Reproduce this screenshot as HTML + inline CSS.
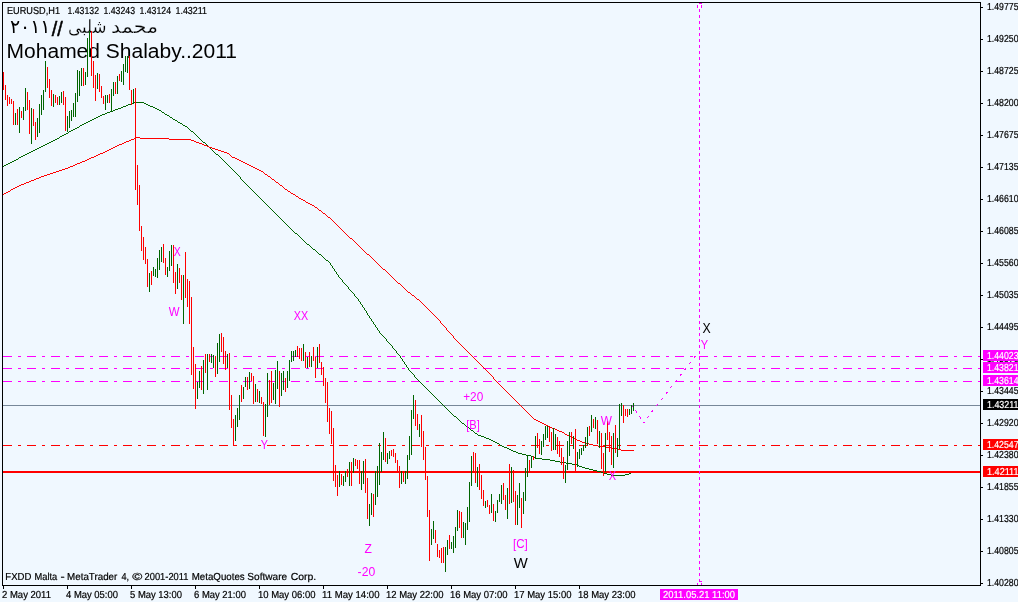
<!DOCTYPE html>
<html lang="en"><head><meta charset="utf-8"><title>EURUSD,H1</title>
<style>
html,body{margin:0;padding:0;background:#f0f8ff;overflow:hidden}
svg{display:block;will-change:transform}
text{font-family:"Liberation Sans","DejaVu Sans",sans-serif;}
.t{font-size:10.2px;fill:#000;stroke:#000;stroke-width:.2px;text-rendering:geometricPrecision}
.w{font-size:10.2px;fill:#fff;stroke:#fff;stroke-width:.2px;text-rendering:geometricPrecision}
.m{font-size:12px;fill:#f0f}
</style></head><body>
<svg width="1018" height="602" viewBox="0 0 1018 602">
<rect x="0" y="0" width="1018" height="602" fill="#f0f8ff"/>
<line x1="3" y1="356.5" x2="980" y2="356.5" stroke="#f0f" stroke-width="1" stroke-dasharray="9 6 3 6" stroke-dashoffset="0" shape-rendering="crispEdges"/>
<line x1="3" y1="368.5" x2="980" y2="368.5" stroke="#f0f" stroke-width="1" stroke-dasharray="9 6 3 6" stroke-dashoffset="0" shape-rendering="crispEdges"/>
<line x1="3" y1="381.5" x2="980" y2="381.5" stroke="#f0f" stroke-width="1" stroke-dasharray="9 6 3 6" stroke-dashoffset="0" shape-rendering="crispEdges"/>
<line x1="3" y1="405.5" x2="980" y2="405.5" stroke="#778899" stroke-width="1" shape-rendering="crispEdges"/>
<line x1="3" y1="445.5" x2="980" y2="445.5" stroke="#f00" stroke-width="1" stroke-dasharray="9 6 3 6" stroke-dashoffset="0" shape-rendering="crispEdges"/>
<line x1="3" y1="472" x2="980" y2="472" stroke="#f00" stroke-width="2" shape-rendering="crispEdges"/>
<line x1="699.5" y1="3" x2="699.5" y2="585" stroke="#f0f" stroke-width="1" stroke-dasharray="3 3" stroke-dashoffset="0" shape-rendering="crispEdges"/>
<rect x="698" y="4" width="3" height="5" fill="#fff" shape-rendering="crispEdges"/>
<line x1="699" y1="3.5" x2="702" y2="3.5" stroke="#f0f" stroke-width="1" shape-rendering="crispEdges"/>
<line x1="697.5" y1="5" x2="697.5" y2="8" stroke="#f0f" stroke-width="1" shape-rendering="crispEdges"/>
<line x1="701.5" y1="5" x2="701.5" y2="8" stroke="#f0f" stroke-width="1" shape-rendering="crispEdges"/>
<line x1="699" y1="581.5" x2="702" y2="581.5" stroke="#f0f" stroke-width="1" shape-rendering="crispEdges"/>
<line x1="697.5" y1="583" x2="697.5" y2="585" stroke="#f0f" stroke-width="1" shape-rendering="crispEdges"/>
<line x1="701.5" y1="583" x2="701.5" y2="585" stroke="#f0f" stroke-width="1" shape-rendering="crispEdges"/>
<path d="M3 166.5h1M4 165.5h2M6 164.5h2M8 163.5h2M10 162.5h2M12 161.5h2M14 160.5h2M16 159.5h2M18 158.5h1M19 157.5h2M21 156.5h2M23 155.5h2M25 154.5h2M27 153.5h2M29 152.5h2M31 151.5h2M33 150.5h2M35 149.5h2M37 148.5h2M39 147.5h2M41 146.5h2M43 145.5h2M45 144.5h2M47 143.5h2M49 142.5h2M51 141.5h2M53 140.5h2M55 139.5h2M57 138.5h2M59 137.5h1M60 136.5h2M62 135.5h2M64 134.5h2M66 133.5h2M68 132.5h1M69 131.5h2M71 130.5h2M73 129.5h2M75 128.5h2M77 127.5h2M79 126.5h1M80 125.5h2M82 124.5h2M84 123.5h2M86 122.5h2M88 121.5h2M90 120.5h2M92 119.5h2M94 118.5h2M96 117.5h2M98 116.5h2M100 115.5h2M102 114.5h3M105 113.5h2M107 112.5h3M110 111.5h3M113 110.5h2M115 109.5h3M118 108.5h3M121 107.5h2M123 106.5h3M126 105.5h2M128 104.5h3M131 103.5h3M134 102.5h10M144 103.5h2M146 104.5h2M148 105.5h2M150 106.5h3M153 107.5h2M155 108.5h2M157 109.5h2M159 110.5h2M161 111.5h1M162 112.5h2M164 113.5h1M165 114.5h2M167 115.5h2M169 116.5h1M170 117.5h2M172 118.5h1M173 119.5h2M175 120.5h2M177 121.5h1M178 122.5h2M180 123.5h2M182 124.5h1M183 125.5h2M185 126.5h2M187 127.5h1M188 128.5h1M189 129.5h1M190 130.5h1M191 131.5h2M193 132.5h1M194 133.5h1M195 134.5h1M196 135.5h1M197 136.5h1M198 137.5h1M199 138.5h1M200 139.5h1M201 140.5h1M202 141.5h1M203 142.5h2M205 143.5h1M206 144.5h1M207 145.5h1M208 146.5h1M209 147.5h1M210 148.5h1M211 149.5h1M212 150.5h1M213 151.5h1M214 152.5h1M215 153.5h1M216 154.5h2M218 155.5h1M219 156.5h1M220 157.5h1M221 158.5h1M222 159.5h1M223 160.5h1M224 161.5h1M225 162.5h1M226 163.5h1M227 164.5h1M228 165.5h1M229 166.5h1M230 167.5h1M231 168.5h1M232 169.5h1M233 170.5h1M234 171.5h1M235 172.5h1M236 173.5h1M237 174.5h1M238 175.5h1M239 176.5h1M240.5 177v2M241 179.5h1M242 180.5h1M243 181.5h1M244 182.5h1M245 183.5h1M246 184.5h1M247 185.5h1M248 186.5h1M249 187.5h1M250 188.5h1M251 189.5h1M252 190.5h1M253 191.5h1M254 192.5h1M255 193.5h1M256 194.5h1M257 195.5h1M258 196.5h1M259 197.5h1M260 198.5h1M261 199.5h1M262 200.5h1M263 201.5h1M264 202.5h1M265 203.5h1M266 204.5h1M267 205.5h1M268 206.5h1M269 207.5h1M270 208.5h1M271 209.5h1M272 210.5h1M273 211.5h1M274 212.5h1M275 213.5h1M276 214.5h1M277 215.5h1M278 216.5h1M279 217.5h1M280 218.5h1M281 219.5h1M282 220.5h1M283 221.5h1M284 222.5h1M285 223.5h1M286 224.5h1M287 225.5h1M288 226.5h1M289 227.5h1M290 228.5h1M291 229.5h1M292 230.5h1M293 231.5h1M294 232.5h1M295 233.5h2M297 234.5h1M298 235.5h1M299 236.5h1M300 237.5h1M301 238.5h1M302 239.5h1M303 240.5h1M304 241.5h1M305 242.5h1M306 243.5h1M307 244.5h2M309 245.5h1M310 246.5h1M311 247.5h1M312 248.5h1M313 249.5h2M315 250.5h1M316 251.5h1M317 252.5h1M318 253.5h1M319 254.5h2M321 255.5h1M322 256.5h1M323 257.5h1M324 258.5h1M325 259.5h1M326 260.5h2M328 261.5h1M329 262.5h1M330.5 263v2M331 265.5h1M332.5 266v2M333 268.5h1M334.5 269v2M335 271.5h1M336.5 272v2M337 274.5h1M338.5 275v2M339 277.5h1M340 278.5h1M341 279.5h1M342.5 280v2M343 282.5h1M344 283.5h1M345 284.5h1M346 285.5h1M347 286.5h1M348.5 287v2M349 289.5h1M350 290.5h1M351 291.5h1M352 292.5h1M353 293.5h1M354.5 294v2M355 296.5h1M356 297.5h1M357 298.5h1M358.5 299v2M359 301.5h1M360.5 302v2M361 304.5h1M362.5 305v2M363 307.5h1M364.5 308v2M365 310.5h1M366.5 311v2M367.5 313v2M368 315.5h1M369.5 316v2M370 318.5h1M371.5 319v2M372 321.5h1M373.5 322v2M374 324.5h1M375.5 325v2M376 327.5h1M377.5 328v2M378 330.5h1M379.5 331v2M380 333.5h1M381 334.5h1M382 335.5h1M383 336.5h1M384 337.5h1M385 338.5h1M386.5 339v2M387 341.5h1M388 342.5h1M389 343.5h1M390 344.5h1M391 345.5h1M392.5 346v2M393 348.5h1M394 349.5h1M395 350.5h1M396.5 351v2M397 353.5h1M398 354.5h1M399 355.5h1M400.5 356v2M401 358.5h1M402.5 359v2M403 361.5h1M404.5 362v2M405 364.5h1M406.5 365v2M407 367.5h1M408.5 368v2M409 370.5h1M410 371.5h1M411 372.5h1M412 373.5h1M413 374.5h1M414.5 375v2M415 377.5h1M416 378.5h1M417 379.5h1M418 380.5h1M419 381.5h1M420 382.5h1M421 383.5h1M422 384.5h1M423 385.5h1M424 386.5h1M425 387.5h1M426 388.5h1M427 389.5h1M428 390.5h1M429 391.5h1M430 392.5h1M431 393.5h1M432 394.5h1M433 395.5h1M434 396.5h1M435 397.5h1M436 398.5h1M437 399.5h1M438 400.5h1M439 401.5h1M440 402.5h1M441 403.5h1M442 404.5h1M443 405.5h1M444 406.5h1M445 407.5h1M446 408.5h1M447 409.5h1M448 410.5h1M449 411.5h1M450 412.5h1M451 413.5h1M452 414.5h1M453 415.5h1M454 416.5h2M456 417.5h1M457 418.5h1M458 419.5h1M459 420.5h1M460 421.5h1M461 422.5h1M462 423.5h2M464 424.5h1M465 425.5h1M466 426.5h1M467 427.5h2M469 428.5h1M470 429.5h1M471 430.5h2M473 431.5h1M474 432.5h1M475 433.5h2M477 434.5h1M478 435.5h3M481 436.5h3M484 437.5h2M486 438.5h3M489 439.5h2M491 440.5h2M493 441.5h2M495 442.5h2M497 443.5h2M499 444.5h1M500 445.5h2M502 446.5h2M504 447.5h3M507 448.5h2M509 449.5h2M511 450.5h2M513 451.5h3M516 452.5h2M518 453.5h4M522 454.5h4M526 455.5h5M531 456.5h2M533 457.5h3M536 458.5h6M542 459.5h8M550 460.5h5M555 461.5h5M560 462.5h6M566 463.5h6M572 464.5h5M577 465.5h2M579 466.5h3M582 467.5h3M585 468.5h4M589 469.5h4M593 470.5h4M597 471.5h4M601 472.5h3M604 473.5h3M607 474.5h4M611 475.5h14M625 474.5h4M629 473.5h2" fill="none" stroke="#006400" stroke-width="1" shape-rendering="crispEdges"/>
<path d="M3 194.5h1M4 193.5h2M6 192.5h2M8 191.5h2M10 190.5h1M11 189.5h2M13 188.5h2M15 187.5h2M17 186.5h2M19 185.5h2M21 184.5h3M24 183.5h2M26 182.5h3M29 181.5h2M31 180.5h3M34 179.5h2M36 178.5h3M39 177.5h2M41 176.5h3M44 175.5h3M47 174.5h3M50 173.5h3M53 172.5h3M56 171.5h3M59 170.5h3M62 169.5h3M65 168.5h3M68 167.5h2M70 166.5h3M73 165.5h2M75 164.5h2M77 163.5h3M80 162.5h2M82 161.5h3M85 160.5h2M87 159.5h2M89 158.5h2M91 157.5h3M94 156.5h2M96 155.5h2M98 154.5h2M100 153.5h3M103 152.5h2M105 151.5h2M107 150.5h2M109 149.5h2M111 148.5h2M113 147.5h2M115 146.5h2M117 145.5h2M119 144.5h3M122 143.5h2M124 142.5h2M126 141.5h3M129 140.5h2M131 139.5h3M134 138.5h2M136 137.5h4M140 138.5h29M169 139.5h22M191 140.5h3M194 141.5h2M196 142.5h3M199 143.5h3M202 144.5h2M204 145.5h3M207 146.5h2M209 147.5h3M212 148.5h3M215 149.5h3M218 150.5h3M221 151.5h3M224 152.5h3M227 153.5h2M229 154.5h1M230 155.5h1M231 156.5h1M232 157.5h3M235 158.5h2M237 159.5h2M239 160.5h2M241 161.5h2M243 162.5h2M245 163.5h2M247 164.5h2M249 165.5h2M251 166.5h2M253 167.5h2M255 168.5h2M257 169.5h2M259 170.5h2M261 171.5h2M263 172.5h1M264 173.5h1M265 174.5h2M267 175.5h1M268 176.5h2M270 177.5h1M271 178.5h1M272 179.5h2M274 180.5h1M275 181.5h1M276 182.5h2M278 183.5h1M279 184.5h1M280 185.5h2M282 186.5h1M283 187.5h1M284 188.5h1M285 189.5h2M287 190.5h1M288 191.5h2M290 192.5h1M291 193.5h2M293 194.5h2M295 195.5h1M296 196.5h2M298 197.5h1M299 198.5h2M301 199.5h2M303 200.5h2M305 201.5h1M306 202.5h2M308 203.5h2M310 204.5h2M312 205.5h2M314 206.5h1M315 207.5h2M317 208.5h1M318 209.5h1M319 210.5h2M321 211.5h1M322 212.5h1M323 213.5h2M325 214.5h1M326 215.5h1M327 216.5h1M328 217.5h2M330 218.5h1M331 219.5h1M332 220.5h1M333 221.5h1M334 222.5h1M335 223.5h1M336 224.5h1M337 225.5h1M338 226.5h1M339 227.5h1M340 228.5h1M341 229.5h1M342 230.5h1M343 231.5h1M344 232.5h1M345 233.5h1M346 234.5h1M347 235.5h1M348 236.5h1M349 237.5h1M350 238.5h2M352 239.5h1M353 240.5h1M354 241.5h1M355 242.5h1M356 243.5h1M357 244.5h1M358 245.5h1M359 246.5h1M360 247.5h1M361 248.5h1M362 249.5h1M363 250.5h1M364 251.5h1M365 252.5h1M366 253.5h1M367 254.5h2M369 255.5h1M370 256.5h1M371 257.5h1M372 258.5h1M373 259.5h1M374 260.5h1M375 261.5h1M376 262.5h1M377 263.5h1M378 264.5h1M379 265.5h1M380 266.5h1M381 267.5h1M382 268.5h1M383 269.5h2M385 270.5h1M386 271.5h1M387 272.5h1M388 273.5h1M389 274.5h1M390 275.5h1M391 276.5h1M392 277.5h1M393 278.5h1M394 279.5h1M395 280.5h1M396 281.5h1M397 282.5h1M398 283.5h2M400 284.5h1M401 285.5h1M402 286.5h1M403 287.5h1M404 288.5h1M405 289.5h1M406 290.5h1M407 291.5h1M408 292.5h2M410 293.5h1M411 294.5h1M412 295.5h2M414 296.5h1M415 297.5h1M416 298.5h1M417 299.5h2M419 300.5h1M420 301.5h1M421 302.5h1M422 303.5h1M423 304.5h1M424 305.5h1M425 306.5h1M426 307.5h1M427 308.5h1M428 309.5h1M429 310.5h1M430 311.5h1M431 312.5h1M432 313.5h1M433 314.5h1M434 315.5h1M435 316.5h1M436 317.5h1M437 318.5h1M438 319.5h1M439 320.5h1M440.5 321v2M441 323.5h1M442 324.5h1M443 325.5h1M444 326.5h1M445 327.5h1M446.5 328v2M447 330.5h1M448 331.5h1M449 332.5h1M450 333.5h1M451 334.5h1M452 335.5h1M453.5 336v2M454 338.5h1M455 339.5h1M456 340.5h1M457 341.5h1M458 342.5h1M459 343.5h1M460 344.5h1M461 345.5h1M462 346.5h1M463 347.5h1M464 348.5h1M465 349.5h1M466 350.5h1M467 351.5h1M468 352.5h1M469 353.5h1M470 354.5h1M471 355.5h1M472 356.5h1M473 357.5h1M474 358.5h1M475 359.5h1M476 360.5h1M477 361.5h1M478 362.5h1M479 363.5h1M480 364.5h1M481 365.5h1M482 366.5h1M483 367.5h1M484 368.5h1M485 369.5h1M486 370.5h1M487 371.5h1M488 372.5h1M489 373.5h1M490 374.5h1M491 375.5h1M492 376.5h1M493.5 377v2M494 379.5h1M495 380.5h1M496 381.5h1M497 382.5h1M498 383.5h1M499 384.5h1M500 385.5h1M501 386.5h1M502 387.5h1M503 388.5h1M504 389.5h1M505 390.5h1M506 391.5h1M507 392.5h1M508 393.5h1M509 394.5h1M510 395.5h1M511 396.5h1M512 397.5h1M513 398.5h1M514 399.5h1M515 400.5h1M516 401.5h1M517 402.5h1M518 403.5h1M519 404.5h1M520 405.5h1M521 406.5h1M522 407.5h1M523 408.5h1M524 409.5h1M525 410.5h1M526 411.5h1M527 412.5h1M528 413.5h1M529 414.5h1M530 415.5h1M531 416.5h1M532 417.5h1M533 418.5h1M534 419.5h2M536 420.5h2M538 421.5h2M540 422.5h2M542 423.5h2M544 424.5h2M546 425.5h2M548 426.5h2M550 427.5h2M552 428.5h3M555 429.5h2M557 430.5h2M559 431.5h3M562 432.5h2M564 433.5h1M565 434.5h2M567 435.5h2M569 436.5h2M571 437.5h2M573 438.5h2M575 439.5h2M577 440.5h3M580 441.5h2M582 442.5h4M586 443.5h3M589 444.5h4M593 445.5h5M598 446.5h8M606 447.5h6M612 448.5h5M617 449.5h4M621 450.5h13" fill="none" stroke="#f00" stroke-width="1" shape-rendering="crispEdges"/>
<text x="10" y="33" textLength="40.5" font-size="19" fill="#000" lengthAdjust="spacingAndGlyphs" style="font-family:'Liberation Sans','DejaVu Sans',sans-serif">٢٠١١</text>
<text x="51.8" y="35.5" textLength="11" font-size="20" fill="#000" stroke="#000" stroke-width=".5" lengthAdjust="spacingAndGlyphs">//</text>
<text x="68" y="33" textLength="38.5" font-size="18.5" fill="#000" stroke="#f0f8ff" stroke-width=".25" lengthAdjust="spacingAndGlyphs" style="font-family:'Liberation Sans','DejaVu Sans',sans-serif">شلبى</text>
<text x="111" y="33" textLength="47" font-size="18.5" fill="#000" stroke="#f0f8ff" stroke-width=".25" lengthAdjust="spacingAndGlyphs" style="font-family:'Liberation Sans','DejaVu Sans',sans-serif">محمد</text>
<text x="6.6" y="58" font-size="20" fill="#000" textLength="230.4" lengthAdjust="spacingAndGlyphs">Mohamed Shalaby..2011</text>
<path d="M15.5 113V125M19.5 107V133M23.5 107V120M25.5 88V111M31.5 108V144M37.5 118V137M39.5 104V133M41.5 95V115M43.5 90V110M45.5 61V92M53.5 94V107M59.5 96V105M61.5 92V103M67.5 116V132M69.5 111V128M71.5 110V121M73.5 103V117M75.5 93V117M77.5 70V102M79.5 71V96M81.5 68V86M85.5 72V85M87.5 38V77M89.5 31V57M97.5 73V89M105.5 95V110M107.5 95V103M111.5 89V111M113.5 82V96M117.5 76V94M121.5 71V82M123.5 64V85M125.5 56V72M127.5 56V73M133.5 89V104M149.5 273V292M153.5 267V276M155.5 269V277M157.5 258V278M159.5 250V270M161.5 247V262M167.5 267V277M169.5 251V271M171.5 245V266M177.5 264V289M183.5 275V324M197.5 382V399M199.5 371V388M203.5 360V394M207.5 354V390M211.5 354V363M213.5 355V368M217.5 343V374M219.5 334V362M227.5 354V368M235.5 415V441M237.5 408V427M239.5 395V420M243.5 387V399M245.5 377V387M249.5 372V389M255.5 384V402M259.5 391V403M265.5 404V437M267.5 373V417M273.5 383V400M275.5 370V404M277.5 361V389M281.5 373V396M283.5 371V390M287.5 371V388M289.5 360V381M291.5 351V362M293.5 351V361M295.5 350V357M303.5 344V361M307.5 357V368M311.5 356V367M317.5 347V368M339.5 471V487M343.5 476V486M345.5 471V482M349.5 462V486M353.5 458V473M361.5 471V490M363.5 461V484M369.5 504V526M371.5 493V515M375.5 471V505M377.5 466V497M379.5 443V485M381.5 452V472M383.5 432V460M387.5 453V464M389.5 451V459M401.5 471V484M405.5 471V484M407.5 455V479M409.5 436V460M411.5 410V455M413.5 395V419M419.5 424V437M431.5 529V545M433.5 521V539M445.5 547V572M447.5 540V555M451.5 542V549M453.5 536V553M455.5 527V548M457.5 510V531M463.5 522V538M465.5 523V545M467.5 507V530M469.5 482V522M471.5 456V486M477.5 467V487M485.5 501V508M491.5 494V513M495.5 511V522M497.5 500V513M499.5 494V502M501.5 485V504M507.5 488V519M511.5 467V503M517.5 495V525M519.5 483V508M523.5 492V514M525.5 468V501M527.5 456V477M531.5 457V468M535.5 436V459M541.5 441V455M543.5 434V447M545.5 426V440M547.5 426V438M553.5 428V450M555.5 434V450M565.5 465V483M567.5 441V470M569.5 432V456M573.5 436V449M577.5 452V467M579.5 449V459M581.5 448V455M583.5 445V451M585.5 437V448M587.5 427V445M591.5 415V432M595.5 417V429M599.5 431V448M605.5 433V472M613.5 433V468M617.5 438V457M619.5 404V449M621.5 403V416M629.5 409V415M631.5 405V414M633.5 403V411" stroke="#006400" stroke-width="1" fill="none" shape-rendering="crispEdges"/>
<path d="M3.5 72V90M5.5 85V100M7.5 95V106M9.5 97V104M11.5 99V104M13.5 101V125M17.5 109V125M21.5 111V118M27.5 92V110M29.5 100V134M33.5 109V126M35.5 122V140M47.5 67V88M49.5 79V98M51.5 90V106M55.5 95V103M57.5 97V105M63.5 91V105M65.5 97V131M83.5 68V86M91.5 31V76M93.5 61V88M95.5 75V101M99.5 74V92M101.5 86V98M103.5 96V104M109.5 94V103M115.5 82V94M119.5 74V81M129.5 56V90M131.5 90V105M135.5 88V190M137.5 165V205M139.5 185V231M141.5 226V251M143.5 237V260M145.5 247V264M147.5 259V287M151.5 271V285M163.5 244V263M165.5 258V275M173.5 245V283M175.5 272V294M179.5 268V283M181.5 275V300M185.5 252V298M187.5 279V307M189.5 281V324M191.5 297V375M193.5 347V389M195.5 364V409M201.5 366V390M205.5 354V373M209.5 354V362M215.5 356V377M221.5 333V352M223.5 337V364M225.5 351V370M229.5 353V410M231.5 395V428M233.5 419V446M241.5 385V402M247.5 377V390M251.5 373V381M253.5 376V404M257.5 389V402M261.5 397V404M263.5 402V436M269.5 380V405M271.5 371V403M279.5 371V407M285.5 378V392M297.5 346V357M299.5 348V359M301.5 348V361M305.5 352V368M309.5 352V367M313.5 347V361M315.5 357V378M319.5 344V363M321.5 362V375M323.5 367V386M325.5 378V403M327.5 382V422M329.5 408V434M331.5 411V444M333.5 428V481M335.5 465V487M337.5 475V496M341.5 474V485M347.5 469V477M351.5 462V486M355.5 459V466M357.5 460V469M359.5 460V484M365.5 459V493M367.5 478V519M373.5 494V517M385.5 438V462M391.5 450V456M393.5 449V457M395.5 453V463M397.5 460V472M399.5 466V488M403.5 473V482M415.5 400V426M417.5 414V430M421.5 415V447M423.5 431V460M425.5 447V480M427.5 476V517M429.5 510V561M435.5 530V543M437.5 544V557M439.5 550V558M441.5 548V563M443.5 547V563M449.5 535V549M459.5 511V528M461.5 512V538M473.5 452V473M475.5 453V483M479.5 464V490M481.5 475V499M483.5 490V506M487.5 500V507M489.5 505V514M493.5 504V521M503.5 483V500M505.5 495V510M509.5 464V504M513.5 470V502M515.5 491V525M521.5 498V528M529.5 460V471M533.5 456V460M537.5 433V448M539.5 439V454M549.5 427V442M551.5 432V451M557.5 437V454M559.5 441V457M561.5 448V465M563.5 457V479M571.5 432V444M575.5 429V471M589.5 426V436M593.5 419V428M597.5 420V444M601.5 433V469M603.5 453V476M607.5 421V440M609.5 432V452M611.5 436V465M615.5 425V453M623.5 405V423M625.5 409V416M627.5 409V417" stroke="#f00" stroke-width="1" fill="none" shape-rendering="crispEdges"/>
<line x1="632.5" y1="406" x2="643.5" y2="422.5" stroke="#f0f" stroke-width="1" stroke-dasharray="2.4 4.81" stroke-dashoffset="1.8" shape-rendering="crispEdges"/>
<line x1="643.5" y1="422.5" x2="695.5" y2="356" stroke="#f0f" stroke-width="1" stroke-dasharray="2.54 5.08" stroke-dashoffset="1.91" shape-rendering="crispEdges"/>
<line x1="643" y1="422.5" x2="645" y2="422.5" stroke="#f0f" stroke-width="1" shape-rendering="crispEdges"/>
<line x1="2" y1="2.5" x2="981" y2="2.5" stroke="#000" stroke-width="1" shape-rendering="crispEdges"/>
<line x1="2" y1="585.5" x2="981" y2="585.5" stroke="#000" stroke-width="1" shape-rendering="crispEdges"/>
<line x1="2.5" y1="2" x2="2.5" y2="586" stroke="#000" stroke-width="1" shape-rendering="crispEdges"/>
<line x1="980.5" y1="2" x2="980.5" y2="586" stroke="#000" stroke-width="1" shape-rendering="crispEdges"/>
<line x1="981" y1="7.5" x2="983" y2="7.5" stroke="#000" stroke-width="1" shape-rendering="crispEdges"/>
<text x="987" y="10" class="t" textLength="31.5" lengthAdjust="spacingAndGlyphs">1.49775</text>
<line x1="981" y1="39.5" x2="983" y2="39.5" stroke="#000" stroke-width="1" shape-rendering="crispEdges"/>
<text x="987" y="42" class="t" textLength="31.5" lengthAdjust="spacingAndGlyphs">1.49250</text>
<line x1="981" y1="71.5" x2="983" y2="71.5" stroke="#000" stroke-width="1" shape-rendering="crispEdges"/>
<text x="987" y="74" class="t" textLength="31.5" lengthAdjust="spacingAndGlyphs">1.48725</text>
<line x1="981" y1="103.5" x2="983" y2="103.5" stroke="#000" stroke-width="1" shape-rendering="crispEdges"/>
<text x="987" y="106" class="t" textLength="31.5" lengthAdjust="spacingAndGlyphs">1.48200</text>
<line x1="981" y1="135.5" x2="983" y2="135.5" stroke="#000" stroke-width="1" shape-rendering="crispEdges"/>
<text x="987" y="138" class="t" textLength="31.5" lengthAdjust="spacingAndGlyphs">1.47675</text>
<line x1="981" y1="167.5" x2="983" y2="167.5" stroke="#000" stroke-width="1" shape-rendering="crispEdges"/>
<text x="987" y="170" class="t" textLength="31.5" lengthAdjust="spacingAndGlyphs">1.47135</text>
<line x1="981" y1="199.5" x2="983" y2="199.5" stroke="#000" stroke-width="1" shape-rendering="crispEdges"/>
<text x="987" y="202" class="t" textLength="31.5" lengthAdjust="spacingAndGlyphs">1.46610</text>
<line x1="981" y1="231.5" x2="983" y2="231.5" stroke="#000" stroke-width="1" shape-rendering="crispEdges"/>
<text x="987" y="234" class="t" textLength="31.5" lengthAdjust="spacingAndGlyphs">1.46085</text>
<line x1="981" y1="263.5" x2="983" y2="263.5" stroke="#000" stroke-width="1" shape-rendering="crispEdges"/>
<text x="987" y="266" class="t" textLength="31.5" lengthAdjust="spacingAndGlyphs">1.45560</text>
<line x1="981" y1="295.5" x2="983" y2="295.5" stroke="#000" stroke-width="1" shape-rendering="crispEdges"/>
<text x="987" y="298" class="t" textLength="31.5" lengthAdjust="spacingAndGlyphs">1.45035</text>
<line x1="981" y1="327.5" x2="983" y2="327.5" stroke="#000" stroke-width="1" shape-rendering="crispEdges"/>
<text x="987" y="330" class="t" textLength="31.5" lengthAdjust="spacingAndGlyphs">1.44495</text>
<line x1="981" y1="359.5" x2="983" y2="359.5" stroke="#000" stroke-width="1" shape-rendering="crispEdges"/>
<text x="987" y="362" class="t" textLength="31.5" lengthAdjust="spacingAndGlyphs">1.43970</text>
<line x1="981" y1="391.5" x2="983" y2="391.5" stroke="#000" stroke-width="1" shape-rendering="crispEdges"/>
<text x="987" y="394" class="t" textLength="31.5" lengthAdjust="spacingAndGlyphs">1.43445</text>
<line x1="981" y1="423.5" x2="983" y2="423.5" stroke="#000" stroke-width="1" shape-rendering="crispEdges"/>
<text x="987" y="426" class="t" textLength="31.5" lengthAdjust="spacingAndGlyphs">1.42920</text>
<line x1="981" y1="455.5" x2="983" y2="455.5" stroke="#000" stroke-width="1" shape-rendering="crispEdges"/>
<text x="987" y="458" class="t" textLength="31.5" lengthAdjust="spacingAndGlyphs">1.42380</text>
<line x1="981" y1="487.5" x2="983" y2="487.5" stroke="#000" stroke-width="1" shape-rendering="crispEdges"/>
<text x="987" y="490" class="t" textLength="31.5" lengthAdjust="spacingAndGlyphs">1.41855</text>
<line x1="981" y1="519.5" x2="983" y2="519.5" stroke="#000" stroke-width="1" shape-rendering="crispEdges"/>
<text x="987" y="522" class="t" textLength="31.5" lengthAdjust="spacingAndGlyphs">1.41330</text>
<line x1="981" y1="551.5" x2="983" y2="551.5" stroke="#000" stroke-width="1" shape-rendering="crispEdges"/>
<text x="987" y="554" class="t" textLength="31.5" lengthAdjust="spacingAndGlyphs">1.40805</text>
<line x1="981" y1="583.5" x2="983" y2="583.5" stroke="#000" stroke-width="1" shape-rendering="crispEdges"/>
<text x="987" y="586" class="t" textLength="31.5" lengthAdjust="spacingAndGlyphs">1.40280</text>
<line x1="3.5" y1="585" x2="3.5" y2="589" stroke="#000" stroke-width="1" shape-rendering="crispEdges"/>
<text x="2" y="598" class="t" textLength="49" lengthAdjust="spacingAndGlyphs">2 May 2011</text>
<line x1="67.5" y1="585" x2="67.5" y2="589" stroke="#000" stroke-width="1" shape-rendering="crispEdges"/>
<text x="66" y="598" class="t" textLength="52" lengthAdjust="spacingAndGlyphs">4 May 05:00</text>
<line x1="131.5" y1="585" x2="131.5" y2="589" stroke="#000" stroke-width="1" shape-rendering="crispEdges"/>
<text x="130" y="598" class="t" textLength="52" lengthAdjust="spacingAndGlyphs">5 May 13:00</text>
<line x1="195.5" y1="585" x2="195.5" y2="589" stroke="#000" stroke-width="1" shape-rendering="crispEdges"/>
<text x="194" y="598" class="t" textLength="52" lengthAdjust="spacingAndGlyphs">6 May 21:00</text>
<line x1="259.5" y1="585" x2="259.5" y2="589" stroke="#000" stroke-width="1" shape-rendering="crispEdges"/>
<text x="258" y="598" class="t" textLength="57.5" lengthAdjust="spacingAndGlyphs">10 May 06:00</text>
<line x1="323.5" y1="585" x2="323.5" y2="589" stroke="#000" stroke-width="1" shape-rendering="crispEdges"/>
<text x="322" y="598" class="t" textLength="57.5" lengthAdjust="spacingAndGlyphs">11 May 14:00</text>
<line x1="387.5" y1="585" x2="387.5" y2="589" stroke="#000" stroke-width="1" shape-rendering="crispEdges"/>
<text x="386" y="598" class="t" textLength="57.5" lengthAdjust="spacingAndGlyphs">12 May 22:00</text>
<line x1="451.5" y1="585" x2="451.5" y2="589" stroke="#000" stroke-width="1" shape-rendering="crispEdges"/>
<text x="450" y="598" class="t" textLength="57.5" lengthAdjust="spacingAndGlyphs">16 May 07:00</text>
<line x1="515.5" y1="585" x2="515.5" y2="589" stroke="#000" stroke-width="1" shape-rendering="crispEdges"/>
<text x="514" y="598" class="t" textLength="57.5" lengthAdjust="spacingAndGlyphs">17 May 15:00</text>
<line x1="579.5" y1="585" x2="579.5" y2="589" stroke="#000" stroke-width="1" shape-rendering="crispEdges"/>
<text x="578" y="598" class="t" textLength="57.5" lengthAdjust="spacingAndGlyphs">18 May 23:00</text>
<rect x="983" y="350" width="35" height="11" fill="#f0f" shape-rendering="crispEdges"/>
<text x="987" y="359" class="w" textLength="31.5" lengthAdjust="spacingAndGlyphs">1.44023</text>
<rect x="983" y="362" width="35" height="11" fill="#f0f" shape-rendering="crispEdges"/>
<text x="987" y="371" class="w" textLength="31.5" lengthAdjust="spacingAndGlyphs">1.43821</text>
<rect x="983" y="375" width="35" height="11" fill="#f0f" shape-rendering="crispEdges"/>
<text x="987" y="384" class="w" textLength="31.5" lengthAdjust="spacingAndGlyphs">1.43614</text>
<rect x="983" y="399" width="35" height="11" fill="#000" shape-rendering="crispEdges"/>
<text x="987" y="408" class="w" textLength="31.5" lengthAdjust="spacingAndGlyphs">1.43211</text>
<rect x="983" y="439" width="35" height="11" fill="#f00" shape-rendering="crispEdges"/>
<text x="987" y="448" class="w" textLength="31.5" lengthAdjust="spacingAndGlyphs">1.42547</text>
<rect x="983" y="466" width="35" height="11" fill="#f00" shape-rendering="crispEdges"/>
<text x="987" y="475" class="w" textLength="31.5" lengthAdjust="spacingAndGlyphs">1.42111</text>
<rect x="660" y="589" width="78" height="11" fill="#f0f" shape-rendering="crispEdges"/>
<text x="663" y="598" class="w" textLength="72" lengthAdjust="spacingAndGlyphs">2011.05.21 11:00</text>
<text x="7" y="14" class="t" textLength="53" lengthAdjust="spacingAndGlyphs">EURUSD,H1</text>
<text x="67.5" y="14" class="t" textLength="31.5" lengthAdjust="spacingAndGlyphs">1.43132</text>
<text x="103.5" y="14" class="t" textLength="31.5" lengthAdjust="spacingAndGlyphs">1.43243</text>
<text x="139.5" y="14" class="t" textLength="31.5" lengthAdjust="spacingAndGlyphs">1.43124</text>
<text x="175.5" y="14" class="t" textLength="31.5" lengthAdjust="spacingAndGlyphs">1.43211</text>
<text x="5.3" y="580" class="t" textLength="26" lengthAdjust="spacingAndGlyphs">FXDD</text>
<text x="34.5" y="580" class="t" textLength="22.7" lengthAdjust="spacingAndGlyphs">Malta</text>
<text x="60.5" y="580" class="t" textLength="4.2" lengthAdjust="spacingAndGlyphs">-</text>
<text x="67.1" y="580" class="t" textLength="50.2" lengthAdjust="spacingAndGlyphs">MetaTrader</text>
<text x="121.4" y="580" class="t" textLength="7.6" lengthAdjust="spacingAndGlyphs">4,</text>
<text x="132.3" y="580" class="t" textLength="10.1" lengthAdjust="spacingAndGlyphs">©</text>
<text x="144.5" y="580" class="t" textLength="44" lengthAdjust="spacingAndGlyphs">2001-2011</text>
<text x="191.7" y="580" class="t" textLength="53" lengthAdjust="spacingAndGlyphs">MetaQuotes</text>
<text x="247.3" y="580" class="t" textLength="39.8" lengthAdjust="spacingAndGlyphs">Software</text>
<text x="290.7" y="580" class="t" textLength="25.6" lengthAdjust="spacingAndGlyphs">Corp.</text>
<text x="173.7" y="256" class="m" textLength="7" lengthAdjust="spacingAndGlyphs">X</text>
<text x="168.8" y="316" class="m" textLength="10.8" lengthAdjust="spacingAndGlyphs">W</text>
<text x="293.8" y="320" class="m" textLength="14.4" lengthAdjust="spacingAndGlyphs">XX</text>
<text x="260.8" y="449" class="m" textLength="7.2" lengthAdjust="spacingAndGlyphs">Y</text>
<text x="364.6" y="553" class="m" textLength="7.4" lengthAdjust="spacingAndGlyphs">Z</text>
<text x="357.6" y="576" class="m" textLength="17.6" lengthAdjust="spacingAndGlyphs">-20</text>
<text x="463.2" y="401" class="m" textLength="20" lengthAdjust="spacingAndGlyphs">+20</text>
<text x="466.2" y="429" class="m" textLength="13.6" lengthAdjust="spacingAndGlyphs">[B]</text>
<text x="513" y="548" class="m" textLength="14.8" lengthAdjust="spacingAndGlyphs">[C]</text>
<text x="513.8" y="568" font-size="14" fill="#000" textLength="14" lengthAdjust="spacingAndGlyphs">W</text>
<text x="600.8" y="425" class="m" textLength="11.2" lengthAdjust="spacingAndGlyphs">W</text>
<text x="608.7" y="480" class="m" textLength="7.4" lengthAdjust="spacingAndGlyphs">X</text>
<text x="702.6" y="333" font-size="14" fill="#000" textLength="8.2" lengthAdjust="spacingAndGlyphs">X</text>
<text x="700.7" y="349" class="m" textLength="7.4" lengthAdjust="spacingAndGlyphs">Y</text>
</svg></body></html>
